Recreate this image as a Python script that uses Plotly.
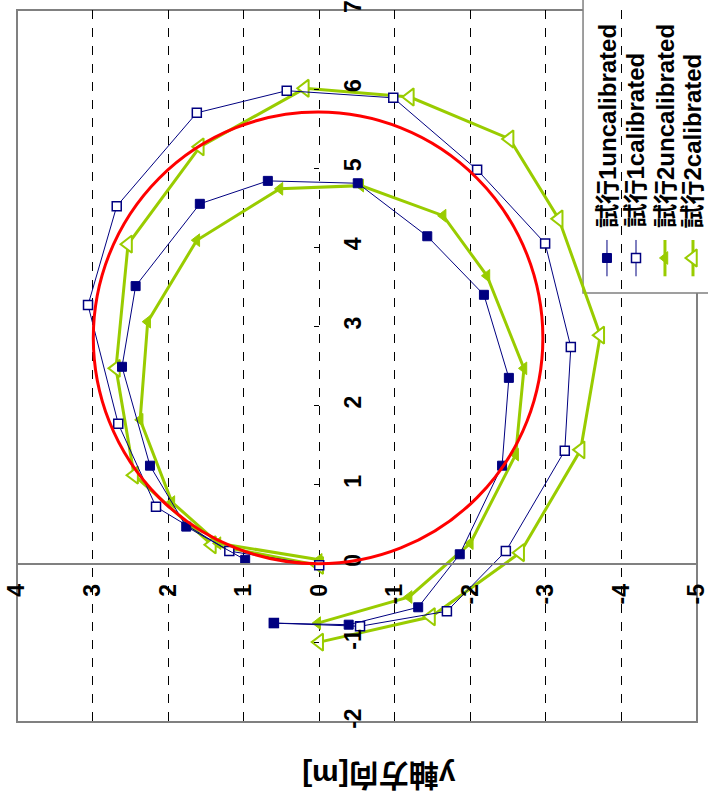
import plotly.graph_objects as go

# Trajectories: x = x-direction [m] (drawn vertically), y = y-direction [m] (drawn horizontally)
run1_uncal_x = [-0.75, -0.77, -0.55, 0.12, 1.24, 2.35, 3.40, 4.14, 4.81, 4.84, 4.55, 3.51, 2.49, 1.24, 0.47, 0.05]
run1_uncal_y = [0.60, -0.39, -1.31, -1.86, -2.42, -2.51, -2.18, -1.43, -0.51, 0.68, 1.58, 2.43, 2.61, 2.24, 1.76, 0.98]

run1_cal_x = [-0.75, -0.79, -0.60, 0.16, 1.43, 2.74, 4.05, 4.98, 5.89, 5.98, 5.70, 4.52, 3.27, 1.77, 0.72, 0.16, -0.02]
run1_cal_y = [0.60, -0.54, -1.69, -2.47, -3.25, -3.33, -2.99, -2.09, -0.98, 0.43, 1.62, 2.68, 3.06, 2.66, 2.16, 1.19, 0.00]

run2_uncal_x = [-0.75, -0.42, 0.26, 1.38, 2.47, 3.64, 4.40, 4.78, 4.74, 4.09, 3.06, 1.82, 0.78, 0.26, 0.05]
run2_uncal_y = [0.02, -1.19, -2.00, -2.60, -2.71, -2.22, -1.64, -0.55, 0.52, 1.62, 2.27, 2.37, 1.95, 1.34, 0.00]

run2_cal_x = [-0.99, -0.67, 0.14, 1.44, 2.89, 4.36, 5.37, 5.90, 6.01, 5.27, 4.04, 2.47, 1.12, 0.24, -0.02]
run2_cal_y = [0.00, -1.48, -2.66, -3.46, -3.72, -3.17, -2.52, -1.20, 0.19, 1.58, 2.53, 2.69, 2.45, 1.42, 0.00]

# Reference circle, as its bounding box (y-direction from/to, x-direction from/to)
circle_y = [2.99, -2.96]
circle_x = [0.00, 5.71]

series_names = ["試行1uncalibrated", "試行1calibrated", "試行2uncalibrated", "試行2calibrated"]

x_ticks = [-2, -1, 0, 1, 2, 3, 4, 5, 6, 7]
y_ticks = [4, 3, 2, 1, 0, -1, -2, -3, -4, -5]
x_range = [-2, 7]
y_range = [4, -5]

NAVY = "#000080"
LIME = "#99CC00"
GRAY = "#808080"
FONT = "Liberation Sans, Arial, Noto Sans CJK JP, sans-serif"

styles = [
    dict(line=dict(color=NAVY, width=1), marker=dict(symbol="square", size=9, color=NAVY,
                                                     line=dict(color=NAVY, width=1))),
    dict(line=dict(color=NAVY, width=1), marker=dict(symbol="square", size=9, color="white",
                                                     line=dict(color=NAVY, width=1.5))),
    dict(line=dict(color=LIME, width=3), marker=dict(symbol="triangle-left", size=11, color=LIME,
                                                     line=dict(color=LIME, width=1))),
    dict(line=dict(color=LIME, width=3), marker=dict(symbol="triangle-left", size=15, color="white",
                                                     line=dict(color=LIME, width=2))),
]

data = [(run1_uncal_y, run1_uncal_x), (run1_cal_y, run1_cal_x),
        (run2_uncal_y, run2_uncal_x), (run2_cal_y, run2_cal_x)]

fig = go.Figure()
draw_order = [3, 2, 1, 0]
for i in draw_order:
    ys, xs = data[i]
    fig.add_trace(go.Scatter(x=ys, y=xs, mode="lines+markers", name=series_names[i],
                             line=styles[i]["line"], marker=styles[i]["marker"],
                             showlegend=False, cliponaxis=False))

# Legend samples on an overlay frame in plot-area fractions
leg_x = [0.8676, 0.9103, 0.9529, 0.9941]
leg_marker_y = 0.6517
leg_line_y = [0.626, 0.677]
for i, lx in enumerate(leg_x):
    fig.add_trace(go.Scatter(x=[lx, lx], y=leg_line_y, mode="lines", line=styles[i]["line"],
                             xaxis="x2", yaxis="y2", showlegend=False, hoverinfo="skip",
                             cliponaxis=False))
    fig.add_trace(go.Scatter(x=[lx], y=[leg_marker_y], mode="markers", marker=styles[i]["marker"],
                             xaxis="x2", yaxis="y2", showlegend=False, hoverinfo="skip",
                             cliponaxis=False))
    fig.add_annotation(x=lx, y=0.691, xref="paper", yref="paper", text="<b>" + series_names[i] + "</b>",
                       textangle=-90, showarrow=False, xanchor="center", yanchor="bottom",
                       font=dict(family=FONT, size=24, color="black", weight="bold"))

shapes = [
    # plot frame
    dict(type="rect", xref="paper", yref="paper", x0=0, x1=1, y0=0, y1=1,
         line=dict(color=GRAY, width=2), layer="between"),
    # legend box
    dict(type="rect", xref="paper", yref="paper", x0=0.8324, x1=1.2, y0=0.6025, y1=1.2,
         fillcolor="white", line=dict(color=GRAY, width=1.5), layer="between"),
    # reference circle
    dict(type="circle", xref="x", yref="y", x0=circle_y[0], x1=circle_y[1],
         y0=circle_x[0], y1=circle_x[1], line=dict(color="red", width=3), layer="above"),
]

tick_font = dict(family=FONT, size=23, color="black", weight="bold")

fig.update_layout(
    width=708, height=808,
    margin=dict(l=17, r=11, t=10, b=86, autoexpand=False),
    paper_bgcolor="white", plot_bgcolor="white",
    shapes=shapes,
    xaxis=dict(range=y_range, tickvals=y_ticks, ticktext=[str(v) for v in y_ticks],
               anchor="free", position=(0 - x_range[0]) / (x_range[1] - x_range[0]),
               showgrid=True, gridcolor="black", griddash="dash", gridwidth=1,
               showline=True, linecolor=GRAY, linewidth=2, zeroline=False,
               automargin=False, ticklabeloverflow="allow",
               ticks="", tickangle=-90, ticklabelstandoff=10, tickfont=tick_font),
    yaxis=dict(range=x_range, tickvals=x_ticks, ticktext=[str(v) for v in x_ticks],
               anchor="free", position=(0 - y_range[0]) / (y_range[1] - y_range[0]),
               side="right", showgrid=False, showline=False, zeroline=False,
               automargin=False, ticklabeloverflow="allow",
               ticks="inside", ticklen=5, tickcolor="black", tickwidth=1,
               tickangle=-90, ticklabelstandoff=18, tickfont=tick_font),
    xaxis2=dict(range=[0, 1], overlaying="x", visible=False, anchor="y2"),
    yaxis2=dict(range=[0, 1], overlaying="y", visible=False, anchor="x2"),
)

fig.add_annotation(x=0.532, y=-0.0744, xref="paper", yref="paper", text="<b>y軸方向[m]</b>",
                   textangle=180, showarrow=False, xanchor="center", yanchor="middle",
                   font=dict(family=FONT, size=30, color="black", weight="bold"))

fig.write_html("out.html")
